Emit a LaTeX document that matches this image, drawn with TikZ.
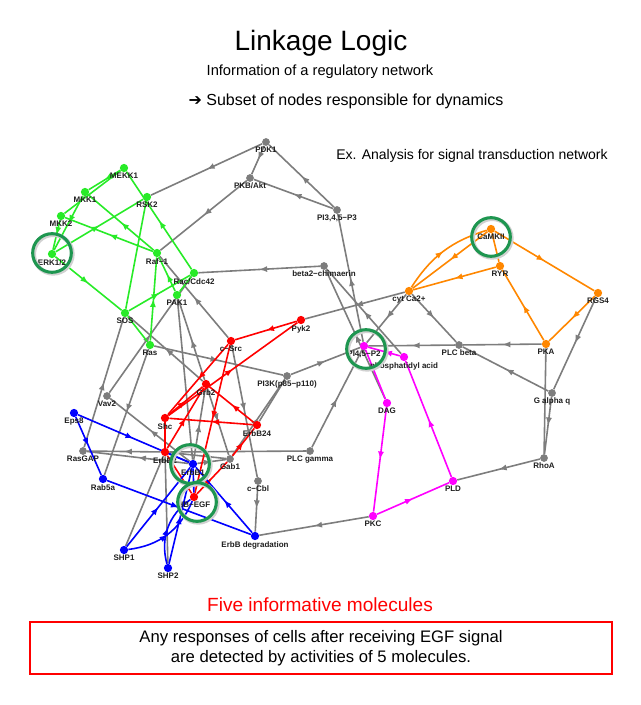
\documentclass[tikz,border=0pt]{standalone}
\usepackage{fontspec}
\setmainfont{Liberation Sans}
\newfontfamily\arrowfont{DejaVu Sans}
\usetikzlibrary{arrows.meta}
\usetikzlibrary{backgrounds}
\usetikzlibrary{decorations.markings}
\definecolor{linkgray}{RGB}{125,125,125}
\definecolor{linkgreen}{RGB}{40,235,40}
\definecolor{linkred}{RGB}{255,0,0}
\definecolor{linkblue}{RGB}{0,0,255}
\definecolor{linkpink}{RGB}{255,0,255}
\definecolor{linkorange}{RGB}{255,135,0}
\definecolor{ringgreen}{RGB}{30,150,80}
\definecolor{labelblack}{RGB}{30,30,30}
\tikzset{
  mid arrow/.style={
    postaction={
      decorate,
      decoration={
        markings,
        mark=at position 0.5 with {\arrow{Latex[length=6pt,width=4.6pt]}},
   }}}}
\tikzset{%
    dot/.style={circle, inner sep=0pt, minimum size=6.2pt, label distance=0.9pt},
    gray dot/.style={dot, fill=linkgray, minimum size=5.8pt},
    green dot/.style={dot, fill=linkgreen},
    red dot/.style={dot, fill=linkred},
    blue dot/.style={dot, fill=linkblue},
    pink dot/.style={dot, fill=linkpink},
    orange dot/.style={dot, fill=linkorange},
    every label/.style={font=\fontsize{6}{7}\selectfont\bfseries, text=labelblack, inner sep=0.5pt},
    gray link/.style={color=linkgray, line width=1.2pt},
    green link/.style={color=linkgreen, line width=1.2pt},
    red link/.style={color=linkred, line width=1.2pt},
    blue link/.style={color=linkblue, line width=1.2pt},
    pink link/.style={color=linkpink, line width=1.2pt},
    orange link/.style={color=linkorange, line width=1.2pt},
    key ring/.style={circle, draw=ringgreen, line width=2.3pt, minimum size=29pt, inner sep=0pt,
        preaction={draw=black!18, line width=3.2pt, transform canvas={shift={(0.9pt,-0.9pt)}}}},
}

\begin{document}
\begin{tikzpicture}[x=0.75pt, y=-0.75pt]
    \useasboundingbox (0,0) rectangle (640,705);
    \node[font=\fontsize{21}{25}\selectfont] (title) at (321,43) {Linkage Logic};
    \node[font=\fontsize{11}{13}\selectfont] (subtitle) at (320,72) {Information of a regulatory network};
    \node[font=\fontsize{12}{14}\selectfont] (subset) at (346,101) {{\arrowfont ➔} Subset of nodes responsible for dynamics};
    \node[font=\fontsize{10.5}{12}\selectfont] (note) at (472,156) {Ex. Analysis for signal transduction network};

    \node[green dot, label=below:MEKK1] (MEKK) at (124,168) {};
    \node[green dot, label=below:MKK1] (MKKone) at (85,192) {};
    \node[green dot, label=below:RSK2] (RSK) at (147,197) {};
    \node[green dot, label=below:MKK2] (MKKtwo) at (61,216) {};
    \node[green dot, label=below:ERK1/2] (ERK) at (52,254) {};
    \node[green dot, label=below:Raf−1] (Raf) at (157,253) {};
    \node[green dot, label=below:Rac/Cdc42] (Rac) at (194,273) {};
    \node[green dot, label=below:PAK1] (PAK) at (177,295) {};
    \node[green dot, label=below:SOS] (SOS) at (125,313) {};
    \node[green dot, label=below:Ras] (Ras) at (150,345) {};

    \node[gray dot, label=below:PDK1] (PDK) at (266,142) {};
    \node[gray dot, label=below:PKB/Akt] (PKB) at (250,178) {};
    \node[gray dot, label={below:PI3,4,5−P3}] (PIPthree) at (337,210) {};
    \node[gray dot, label=below:beta2−chimaerin] (chim) at (324,266) {};
    \node[gray dot, label=below:PI3K(p85−p110)] (PIthreeK) at (287,376) {};
    \node[gray dot, label=below:Vav2] (Vav) at (107,396) {};
    \node[gray dot, label=below:RasGAP] (RasGAP) at (83,451) {};
    \node[gray dot, label=below:Gab1] (Gab) at (230,459) {};
    \node[gray dot, label=below:c−Cbl] (cCbl) at (258,481) {};
    \node[gray dot, label=below:PLC gamma] (PLCg) at (310,451) {};
    \node[gray dot, label=below:PLC beta] (PLCb) at (459,345) {};
    \node[gray dot, label=below:G alpha q] (Gaq) at (552,393) {};
    \node[gray dot, label=below:RhoA] (RhoA) at (544,458) {};

    \node[red dot, label=below:c−Src] (cSrc) at (231,341) {};
    \node[red dot, label=below:Pyk2] (Pyk) at (301,320) {};
    \node[red dot, label=below:Grb2] (Grb) at (206,384) {};
    \node[red dot, label=below:Shc] (Shc) at (165,418) {};
    \node[red dot, label=below:ErbB24] (ErbBtf) at (257,425) {};
    \node[red dot, label=below:ErbB2] (ErbBtwo) at (165,452) {};
    \node[red dot, label=below:HB−EGF] (HBEGF) at (194,497) {};

    \node[blue dot, label=below:Eps8] (Eps) at (74,413) {};
    \node[blue dot, label=below:ErbB1] (ErbBone) at (193,464) {};
    \node[blue dot, label=below:Rab5a] (Rab) at (103,479) {};
    \node[blue dot, label=below:SHP1] (SHPone) at (124,550) {};
    \node[blue dot, label=below:SHP2] (SHPtwo) at (168,568) {};
    \node[blue dot, label=below:ErbB degradation] (deg) at (255,536) {};

    \node[pink dot, label={below:PI4,5−P2}] (PIPtwo) at (364,346) {};
    \node[pink dot, label=below:phosphatidyl acid] (PA) at (404,357) {};
    \node[pink dot, label=below:DAG] (DAG) at (387,403) {};
    \node[pink dot, label=below:PKC] (PKC) at (373,516) {};
    \node[pink dot, label=below:PLD] (PLD) at (453,481) {};

    \node[orange dot, label=below:CaMKII] (CaMK) at (491,229) {};
    \node[orange dot, label=below:RYR] (RYR) at (500,266) {};
    \node[orange dot, label=below:RGS4] (RGS) at (598,293) {};
    \node[orange dot, label=below:PKA] (PKA) at (546,344) {};
    \node[orange dot, label=below:cyt Ca2+] (Ca) at (409,291) {};

    \begin{scope}[on background layer]
        \draw[gray link, mid arrow] (PDK) -- (PKB);
        \draw[gray link, mid arrow] (PIPthree) -- (PDK);
        \draw[gray link, mid arrow] (PIPthree) -- (PKB);
        \draw[gray link, mid arrow] (PDK) -- (RSK);
        \draw[gray link, mid arrow] (PKB) -- (Raf);
        \draw[gray link, mid arrow] (PIPtwo) -- (PIPthree);
        \draw[gray link, mid arrow] (chim) -- (Rac);
        \draw[gray link, mid arrow] (DAG) -- (chim);
        \draw[gray link, mid arrow] (PA) -- (chim);
        \draw[gray link, mid arrow] (Ca) -- (Pyk);
        \draw[gray link, mid arrow] (Ca) -- (PIPtwo);
        \draw[gray link, mid arrow] (Ca) -- (PLCb);
        \draw[gray link, mid arrow] (Gaq) -- (PLCb);
        \draw[gray link, mid arrow] (PLCb) -- (PIPtwo);
        \draw[gray link, mid arrow] (PKA) -- (PLCb);
        \draw[gray link] (PKA) -- (RhoA);
        \draw[gray link, mid arrow] (Gaq) -- (RhoA);
        \draw[gray link, mid arrow] (RGS) -- (Gaq);
        \draw[gray link, mid arrow] (RhoA) -- (PLD);
        \draw[gray link, mid arrow] (PKC) -- (deg);
        \draw[gray link, mid arrow] (cCbl) -- (deg);
        \draw[gray link, mid arrow] (PLCg) -- (PIPtwo);
        \draw[gray link, mid arrow] (PIthreeK) -- (PIPtwo);
        \draw[gray link, mid arrow] (Ras) -- (PIthreeK);
        \draw[gray link, mid arrow] (Gab) -- (PIthreeK);
        \draw[gray link] (ErbBtf) -- (PIthreeK);
        \draw[gray link, mid arrow] (Grb) -- (SOS);
        \draw[gray link, mid arrow] (cSrc) -- (Raf);
        \draw[gray link, mid arrow] (Grb) -- (PAK);
        \draw[gray link, mid arrow] (Vav) -- (Rac);
        \draw[gray link, mid arrow] (RasGAP) -- (SOS);
        \draw[gray link, mid arrow] (Ras) -- (Rab);
        \draw[gray link] (PAK) -- (ErbBone);
        \draw[gray link, mid arrow] (ErbBone) -- (Vav);
        \draw[gray link, mid arrow] (ErbBone) -- (RasGAP);
        \draw[gray link, mid arrow] (ErbBtwo) -- (RasGAP);
        \draw[gray link] (ErbBtwo) -- (PLCg);
        \draw[gray link, mid arrow] (ErbBone) -- (Gab);
        \draw[gray link] (ErbBtwo) -- (Gab);
        \draw[gray link, mid arrow] (Grb) -- (Gab);
        \draw[gray link, mid arrow] (cSrc) -- (cCbl);
        \draw[gray link, mid arrow] (ErbBone) -- (Grb);
        \draw[gray link] (ErbBtwo) -- (SHPone);
        \draw[gray link] (ErbBtwo) -- (SHPtwo);

        \draw[green link, mid arrow] (MEKK) -- (MKKone);
        \draw[green link] (MEKK) -- (MKKtwo);
        \draw[green link, mid arrow] (MKKone) -- (ERK);
        \draw[green link, mid arrow] (MKKtwo) -- (ERK);
        \draw[green link, mid arrow] (Raf) -- (MKKone);
        \draw[green link, mid arrow] (Raf) -- (MKKtwo);
        \draw[green link, mid arrow] (ERK) -- (RSK);
        \draw[green link, mid arrow] (ERK) -- (SOS);
        \draw[green link] (RSK) -- (SOS);
        \draw[green link, mid arrow] (Rac) -- (MEKK);
        \draw[green link, mid arrow] (Ras) -- (Raf);
        \draw[green link, mid arrow] (PAK) -- (Raf);
        \draw[green link] (Rac) -- (PAK);
        \draw[green link, mid arrow] (SOS) -- (Rac);
        \draw[green link] (SOS) -- (Ras);

        \draw[red link, mid arrow] (Pyk) -- (cSrc);
        \draw[red link, mid arrow] (Shc) -- (Pyk);
        \draw[red link, mid arrow] (cSrc) -- (Shc);
        \draw[red link, mid arrow] (Shc) -- (Grb);
        \draw[red link, mid arrow] (ErbBtf) -- (Grb);
        \draw[red link, mid arrow] (ErbBtf) -- (Shc);
        \draw[red link] (ErbBtwo) -- (Shc);
        \draw[red link, mid arrow] (ErbBtwo) -- (Grb);
        \draw[red link, mid arrow] (cSrc) -- (HBEGF);
        \draw[red link, mid arrow] (HBEGF) -- (Gab);
        \draw[red link, mid arrow] (Gab) -- (ErbBtf);
        \draw[red link] (HBEGF) -- (ErbBtwo);

        \draw[blue link, mid arrow] (Eps) -- (Rab);
        \draw[blue link, mid arrow] (Eps) -- (ErbBone);
        \draw[blue link, mid arrow] (Rab) -- (deg);
        \draw[blue link, mid arrow] (SHPone) -- (ErbBone);
        \draw[blue link, mid arrow] (SHPone) to[bend right=30] (HBEGF);
        \draw[blue link, mid arrow] (SHPtwo) -- (ErbBone);
        \draw[blue link, mid arrow] (SHPtwo) to[bend left=35] (HBEGF);
        \draw[blue link, mid arrow] (deg) -- (ErbBone);
        \draw[blue link] (HBEGF) -- (ErbBone);
        \draw[blue link] (ErbBone) -- (ErbBtwo);

        \draw[pink link] (PIPtwo) -- (DAG);
        \draw[pink link, mid arrow] (PA) -- (PIPtwo);
        \draw[pink link, mid arrow] (DAG) -- (PKC);
        \draw[pink link, mid arrow] (PKC) -- (PLD);
        \draw[pink link, mid arrow] (PLD) -- (PA);

        \draw[orange link, mid arrow] (Ca) to[bend left=20] (CaMK);
        \draw[orange link, mid arrow] (CaMK) -- (Ca);
        \draw[orange link, mid arrow] (RYR) -- (Ca);
        \draw[orange link] (CaMK) -- (RYR);
        \draw[orange link, mid arrow] (CaMK) -- (RGS);
        \draw[orange link, mid arrow] (PKA) -- (RYR);
        \draw[orange link, mid arrow] (RGS) -- (PKA);
    \end{scope}

    \node[key ring] (ERKring) at (52,253) {};
    \node[key ring] (CaMKring) at (491,237) {};
    \node[key ring] (PIPring) at (366,349) {};
    \node[key ring] (ErbBring) at (190,464) {};
    \node[key ring] (HBEGFring) at (197,502) {};

    \node[text=linkred, font=\fontsize{14.3}{17}\selectfont] (five) at (320,605) {Five informative molecules};
    \node[draw=linkred, line width=0.8pt, minimum width=436.5pt, minimum height=39pt, align=center,
          font=\fontsize{12.5}{15}\selectfont] (summary) at (321,648)
          {Any responses of cells after receiving EGF signal\\are detected by activities of 5 molecules.};
\end{tikzpicture}
\end{document}
